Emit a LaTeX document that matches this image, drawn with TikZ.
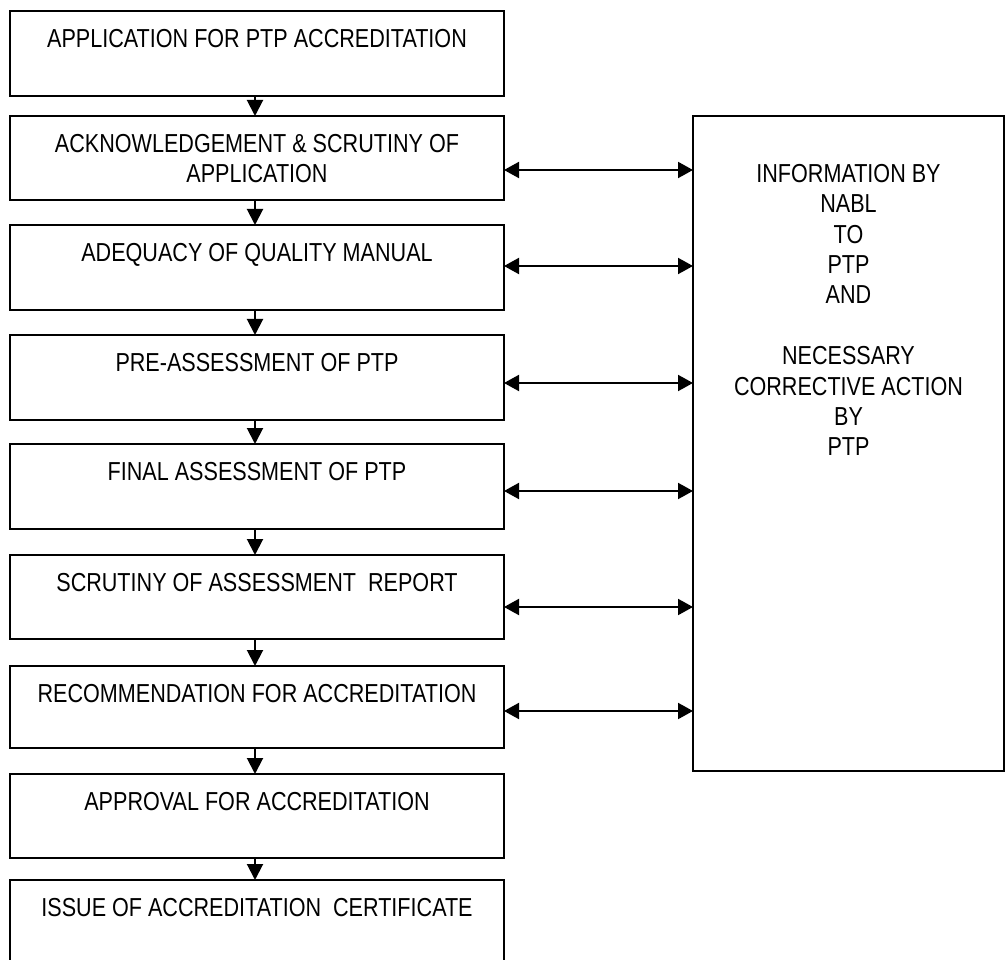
\documentclass[tikz,border=0pt]{standalone}
\usepackage{fontspec}
\setmainfont{Liberation Sans}[FakeStretch=0.83]
\usetikzlibrary{arrows.meta,calc}
\begin{document}
\begin{tikzpicture}[x=1pt,y=-1pt,
  stepbox/.style={draw, line width=1.5pt, rectangle, inner sep=0pt, outer sep=0pt,
    minimum width=494pt, anchor=north west},
  infobox/.style={draw, line width=2pt, rectangle, inner sep=0pt, outer sep=0pt,
    minimum width=311pt, minimum height=655pt, anchor=north west},
  lbl/.style={anchor=north, inner sep=0pt, align=center,
    font=\fontsize{26}{29.5}\selectfont},
  infolbl/.style={anchor=north, inner sep=0pt, align=center,
    font=\fontsize{26}{30.4}\selectfont},
  flow/.style={line width=2pt, -{Triangle[length=16pt,width=16pt]}},
  both/.style={line width=2pt, {Triangle[length=15pt,width=16pt]}-{Triangle[length=15pt,width=16pt]}}
]
\useasboundingbox (0,0) rectangle (1005,960);

% left column boxes
\node[stepbox, minimum height=85pt] (b1) at (10,11) {};
\node[stepbox, minimum height=84pt] (b2) at (10,116) {};
\node[stepbox, minimum height=85pt] (b3) at (10,225) {};
\node[stepbox, minimum height=85pt] (b4) at (10,335) {};
\node[stepbox, minimum height=85pt] (b5) at (10,444) {};
\node[stepbox, minimum height=84pt] (b6) at (10,555) {};
\node[stepbox, minimum height=82pt] (b7) at (10,666) {};
\node[stepbox, minimum height=84pt] (b8) at (10,774) {};
\node[stepbox, minimum height=84pt] (b9) at (10,880) {};

% labels
\node[lbl] (t1) at ($(b1.north)+(0,18.5)$) {APPLICATION FOR PTP ACCREDITATION};
\node[lbl] (t2) at ($(b2.north)+(0,18.5)$) {ACKNOWLEDGEMENT \& SCRUTINY OF\\APPLICATION};
\node[lbl] (t3) at ($(b3.north)+(0,18.5)$) {ADEQUACY OF QUALITY MANUAL};
\node[lbl] (t4) at ($(b4.north)+(0,18.5)$) {PRE-ASSESSMENT OF PTP};
\node[lbl] (t5) at ($(b5.north)+(0,18.5)$) {FINAL ASSESSMENT OF PTP};
\node[lbl] (t6) at ($(b6.north)+(0,18.5)$) {SCRUTINY OF ASSESSMENT\ \ REPORT};
\node[lbl] (t7) at ($(b7.north)+(0,18.5)$) {RECOMMENDATION FOR ACCREDITATION};
\node[lbl] (t8) at ($(b8.north)+(0,18.5)$) {APPROVAL FOR ACCREDITATION};
\node[lbl] (t9) at ($(b9.north)+(0,18.5)$) {ISSUE OF ACCREDITATION\ \ CERTIFICATE};

% right box
\node[infobox] (info) at (693,116) {};
\node[infolbl] (tinfo) at ($(info.north)+(0,48)$) {INFORMATION BY\\NABL\\TO\\PTP\\AND\\ \\NECESSARY\\CORRECTIVE ACTION\\BY\\PTP};

% vertical flow arrows
\foreach \a/\b in {b1/b2,b2/b3,b3/b4,b4/b5,b5/b6,b6/b7,b7/b8,b8/b9}
  \draw[flow] ($(\a.south)+(-2,0)$) -- ($(\b.north)+(-2,0)$);

% horizontal two-way arrows
\coordinate (h2) at (0,170);
\coordinate (h3) at (0,266);
\coordinate (h4) at (0,383);
\coordinate (h5) at (0,491);
\coordinate (h6) at (0,607);
\coordinate (h7) at (0,711);
\foreach \b/\h in {b2/h2,b3/h3,b4/h4,b5/h5,b6/h6,b7/h7}
  \draw[both] (\b.east |- \h) -- (info.west |- \h);
\end{tikzpicture}
\end{document}
